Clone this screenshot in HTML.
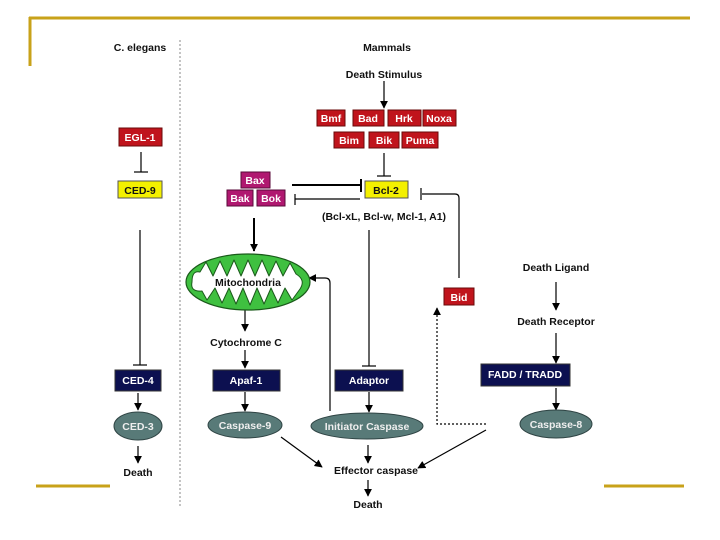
<!DOCTYPE html>
<html><head><meta charset="utf-8"><style>
html,body{margin:0;padding:0;background:#fff;}
svg{display:block;}
text{font-family:"Liberation Sans",Arial,sans-serif;font-size:10.5px;font-weight:bold;}
</style></head><body>
<svg width="720" height="540" viewBox="0 0 720 540" xmlns="http://www.w3.org/2000/svg">
<defs>
<marker id="a" viewBox="0 0 10 10" refX="9" refY="5" markerWidth="8" markerHeight="8" markerUnits="userSpaceOnUse" orient="auto-start-reverse"><path d="M0,0L10,5L0,10z" fill="#000"/></marker>
</defs>
<line x1="29" y1="18" x2="690" y2="18" stroke="#c8a21a" stroke-width="3"/>
<line x1="30" y1="17" x2="30" y2="66" stroke="#c8a21a" stroke-width="3"/>
<line x1="36" y1="486" x2="110" y2="486" stroke="#c8a21a" stroke-width="3"/>
<line x1="604" y1="486" x2="684" y2="486" stroke="#c8a21a" stroke-width="3"/>
<line x1="180" y1="40" x2="180" y2="506" stroke="#888" stroke-width="1" stroke-dasharray="2,2"/>

<g text-anchor="middle" fill="#111">
<text x="140" y="51" font-weight="normal">C. elegans</text>
<text x="387" y="51">Mammals</text>
<text x="384" y="78">Death Stimulus</text>
<text x="384" y="220">(Bcl-xL, Bcl-w, Mcl-1, A1)</text>
<text x="246" y="346">Cytochrome C</text>
<text x="556" y="271">Death Ligand</text>
<text x="556" y="325">Death Receptor</text>
<text x="376" y="474">Effector caspase</text>
<text x="368" y="508">Death</text>
<text x="138" y="476">Death</text>
</g>

<g stroke="#000" stroke-width="1.2" fill="none">
<line x1="384" y1="81" x2="384" y2="108" marker-end="url(#a)"/>
<line x1="141" y1="152" x2="141" y2="172"/><line x1="134" y1="172" x2="148" y2="172"/>
<line x1="140" y1="230" x2="140" y2="365"/><line x1="133" y1="365" x2="147" y2="365"/>
<line x1="138" y1="393" x2="138" y2="410" marker-end="url(#a)"/>
<line x1="138" y1="446" x2="138" y2="463" marker-end="url(#a)"/>
<line x1="384" y1="153" x2="384" y2="176"/><line x1="377" y1="176" x2="391" y2="176"/>
<line x1="292" y1="185" x2="360" y2="185" stroke-width="2"/><line x1="361" y1="179" x2="361" y2="192" stroke-width="2"/>
<line x1="295" y1="199" x2="360" y2="199"/><line x1="295" y1="194" x2="295" y2="205"/>
<path d="M422,194 H455 Q459,194 459,198 V278"/><line x1="421" y1="188" x2="421" y2="200"/>
<line x1="254" y1="218" x2="254" y2="251" stroke-width="2" marker-end="url(#a)"/>
<path d="M330,411 V283 Q330,278 325,278 H309" marker-end="url(#a)"/>
<line x1="245" y1="309" x2="245" y2="331" marker-end="url(#a)"/>
<line x1="245" y1="350" x2="245" y2="368" marker-end="url(#a)"/>
<line x1="245" y1="392" x2="245" y2="411" marker-end="url(#a)"/>
<line x1="369" y1="230" x2="369" y2="366"/><line x1="362" y1="366" x2="376" y2="366"/>
<line x1="369" y1="392" x2="369" y2="412" marker-end="url(#a)"/>
<line x1="556" y1="282" x2="556" y2="310" marker-end="url(#a)"/>
<line x1="556" y1="333" x2="556" y2="363" marker-end="url(#a)"/>
<line x1="556" y1="388" x2="556" y2="410" marker-end="url(#a)"/>
<path d="M486,424 H437 V308" stroke-dasharray="2,2" marker-end="url(#a)"/>
<line x1="281" y1="437" x2="322" y2="467" marker-end="url(#a)"/>
<line x1="368" y1="445" x2="368" y2="463" marker-end="url(#a)"/>
<line x1="486" y1="430" x2="418" y2="468" marker-end="url(#a)"/>
<line x1="368" y1="480" x2="368" y2="496" marker-end="url(#a)"/>
</g>

<g fill="#c0141c" stroke="#6a0a0a" stroke-width="1">
<rect x="317" y="110" width="28" height="16"/><rect x="353" y="110" width="31" height="16"/>
<rect x="388" y="110" width="33" height="16"/><rect x="423" y="110" width="33" height="16"/>
<rect x="334" y="132" width="30" height="16"/><rect x="369" y="132" width="30" height="16"/>
<rect x="402" y="132" width="36" height="16"/>
<rect x="119" y="128" width="43" height="18"/>
<rect x="444" y="288" width="30" height="17"/>
</g>
<g fill="#fff" text-anchor="middle">
<text x="331" y="122">Bmf</text><text x="368" y="122">Bad</text><text x="404" y="122">Hrk</text><text x="439" y="122">Noxa</text>
<text x="349" y="144">Bim</text><text x="384" y="144">Bik</text><text x="420" y="144">Puma</text>
<text x="140" y="141">EGL-1</text><text x="459" y="301">Bid</text>
</g>
<g fill="#b01870" stroke="#5a0a3a"><rect x="241" y="172" width="29" height="16"/><rect x="227" y="190" width="26" height="16"/><rect x="257" y="190" width="28" height="16"/></g>
<g fill="#fff" text-anchor="middle"><text x="255" y="184">Bax</text><text x="240" y="202">Bak</text><text x="271" y="202">Bok</text></g>
<g fill="#f4f000" stroke="#555"><rect x="118" y="181" width="44" height="17"/><rect x="365" y="181" width="43" height="17"/></g>
<g fill="#111" text-anchor="middle"><text x="140" y="194">CED-9</text><text x="386" y="194">Bcl-2</text></g>
<g fill="#0c1050" stroke="#333"><rect x="115" y="370" width="46" height="21"/><rect x="213" y="370" width="67" height="21"/><rect x="335" y="370" width="68" height="21"/><rect x="481" y="364" width="89" height="22"/></g>
<g fill="#fff" text-anchor="middle"><text x="138" y="384">CED-4</text><text x="246" y="384">Apaf-1</text><text x="369" y="384">Adaptor</text><text x="525" y="378">FADD / TRADD</text></g>
<g fill="#587a78" stroke="#2f4444"><ellipse cx="138" cy="426" rx="24" ry="14"/><ellipse cx="245" cy="425" rx="37" ry="13"/><ellipse cx="367" cy="426" rx="56" ry="13"/><ellipse cx="556" cy="424" rx="36" ry="14"/></g>
<g fill="#eee" text-anchor="middle"><text x="138" y="430">CED-3</text><text x="245" y="429">Caspase-9</text><text x="367" y="430">Initiator Caspase</text><text x="556" y="428">Caspase-8</text></g>
<ellipse cx="248" cy="282" rx="62" ry="28" fill="#3fc040" stroke="#1a5a1a" stroke-width="1.2"/>
<path d="M192,282 Q192,270 200,272 L206,262 L213,276 L220,261 L227,276 L234,260 L241,276 L248,260 L255,276 L262,260 L269,276 L276,261 L283,276 L290,263 L296,274 Q306,280 300,289 L292,300 L285,288 L278,303 L271,288 L264,304 L257,288 L250,305 L243,288 L236,304 L229,288 L222,303 L215,288 L207,300 L202,291 Q190,292 192,282 Z" fill="#fff" stroke="#1a5a1a" stroke-width="1" stroke-linejoin="round"/>
<text x="248" y="286" text-anchor="middle" fill="#111" font-size="10">Mitochondria</text>
</svg>
</body></html>
